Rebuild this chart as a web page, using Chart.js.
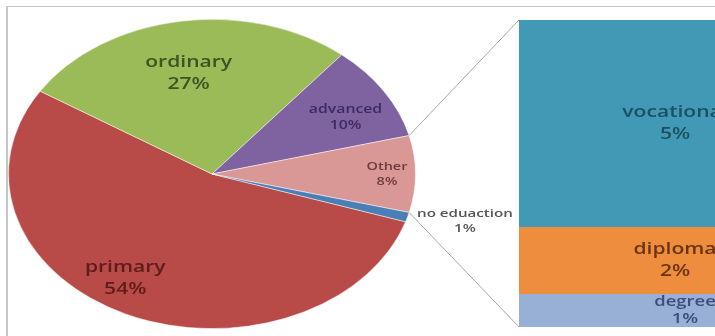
<!DOCTYPE html>
<html>
<head>
<meta charset="utf-8">
<script src="https://cdn.jsdelivr.net/npm/chart.js@4.4.1/dist/chart.umd.min.js"></script>
<style>
    html, body { margin: 0; padding: 0; background: #fff; overflow: hidden; }
    #wrap { position: relative; width: 715px; height: 336px; overflow: hidden; background: #fff; }
    #frame { position: absolute; left: 6px; top: 6px; width: 760px; height: 400px;
             border-top: 1px solid #c6c6c6; border-left: 2px solid #c6c6c6; }
    #barCanvas { position: absolute; left: 519px; top: 0; }
    #pieCanvas { position: absolute; left: 0; top: -38px; }
</style>
</head>
<body>
<div id="wrap">
    <div id="frame"></div>
    <canvas id="barCanvas" width="312" height="336"></canvas>
    <canvas id="pieCanvas" width="715" height="424"></canvas>
</div>
<script>
    // 主饼图数据
    const pieLabels = ['primary', 'ordinary', 'advanced', 'Other', 'no eduaction'];
    const pieValues = [54, 27, 10, 8, 1];

    // 右侧条形 - Other 的细分 (从下到上)
    const barLabels = ['degree', 'diploma', 'vocational'];
    const barValues = [0.85, 1.75, 5.4];

    // 颜色
    const pieColors = ['#b84a47', '#9bbb59', '#7f63a1', '#d99795', '#4a7fb5'];
    const pieTextColors = ['#5e1c1b', '#3f5221', '#3b2c5e', '#6e3b3b', '#555555'];
    const barColors = ['#98afd6', '#ef8d3f', '#4299b5'];
    const barTextColors = ['#3b4f78', '#6a3510', '#1c4f63'];

    const SX = 204 / 155;   // 原图被横向拉伸
    const K = 155 / 204;    // 饼图纵向压扁

    // 标签位置: [半径比例, 角度偏移(度), 字号]
    const pieLabelPos = [[0.8, 7, 16], [0.66, -1, 16], [0.75, 3.4, 12], [0.86, 0, 11], [1.28, -2.4, 11.5]];
    // 条形标签: [字号, x 偏移, 行距]
    const barLabelStyle = [[14, 10, 17], [16, 0, 22], [16, 0, 22]];

    function drawText(ctx, lines, x, y, size, color, lh) {
        lh = lh || size * 1.38;
        ctx.save();
        ctx.font = '600 ' + size + 'px "Open Sans"';
        ctx.fillStyle = color;
        ctx.textAlign = 'center';
        ctx.textBaseline = 'middle';
        lines.forEach((t, i) => {
            ctx.save();
            ctx.translate(x, y + (i - (lines.length - 1) / 2) * lh);
            ctx.scale(SX, 1);
            ctx.fillText(t, 0, 0);
            ctx.restore();
        });
        ctx.restore();
    }

    // 条形标签
    const barLabelPlugin = {
        id: 'barLabels',
        afterDatasetsDraw(chart) {
            chart.data.datasets.forEach((ds, i) => {
                const el = chart.getDatasetMeta(i).data[0];
                const s = barLabelStyle[i];
                drawText(chart.ctx, [barLabels[i], Math.round(barValues[i]) + '%'],
                    el.x + s[1], (el.y + el.base) / 2, s[0], barTextColors[i], s[2]);
            });
        }
    };

    const barChart = new Chart(document.getElementById('barCanvas'), {
        type: 'bar',
        data: {
            labels: ['Other'],
            datasets: barLabels.map((l, i) => ({
                label: l,
                data: [barValues[i]],
                backgroundColor: barColors[i],
                borderWidth: 0,
                barPercentage: 1,
                categoryPercentage: 1
            }))
        },
        options: {
            responsive: false,
            animation: false,
            layout: { padding: { top: 20, bottom: 9, left: 0, right: 0 } },
            scales: {
                x: { stacked: true, display: false },
                y: { stacked: true, display: false, min: 0, max: barValues.reduce((a, b) => a + b, 0) }
            },
            plugins: { legend: { display: false }, tooltip: { enabled: false } }
        },
        plugins: [barLabelPlugin]
    });

    // 压扁成椭圆
    const squashPlugin = {
        id: 'squash',
        beforeDatasetsDraw(chart) {
            const a = chart.getDatasetMeta(0).data[0];
            const c = chart.ctx;
            c.save();
            c.translate(a.x, a.y);
            c.scale(1, K);
            c.translate(-a.x, -a.y);
        },
        afterDatasetsDraw(chart) {
            chart.ctx.restore();
        }
    };

    // 饼图标签 + 连接线
    const pieExtrasPlugin = {
        id: 'pieExtras',
        afterDraw(chart) {
            const ctx = chart.ctx;
            const arcs = chart.getDatasetMeta(0).data;
            arcs.forEach((a, i) => {
                const p = pieLabelPos[i];
                const mid = (a.startAngle + a.endAngle) / 2 + p[1] * Math.PI / 180;
                const r = a.outerRadius * p[0];
                const x = a.x + Math.cos(mid) * r;
                const y = a.y + Math.sin(mid) * r * K;
                drawText(ctx, [pieLabels[i], Math.round(pieValues[i]) + '%'], x, y, p[2], pieTextColors[i]);
            });

            // 连接线: Other 扇区边缘 -> 条形角
            const other = arcs[pieLabels.indexOf('Other')];
            const pc = document.getElementById('pieCanvas');
            const bc = document.getElementById('barCanvas');
            const dx = bc.offsetLeft - pc.offsetLeft;
            const dy = bc.offsetTop - pc.offsetTop;
            const top = barChart.getDatasetMeta(barLabels.length - 1).data[0];
            const bottom = barChart.getDatasetMeta(0).data[0];
            const R = other.outerRadius;
            const p1 = [other.x + Math.cos(other.startAngle) * R, other.y + Math.sin(other.startAngle) * R * K];
            const p2 = [other.x + Math.cos(other.endAngle) * R, other.y + Math.sin(other.endAngle) * R * K];
            ctx.save();
            ctx.strokeStyle = '#a6a6a6';
            ctx.lineWidth = 1;
            ctx.beginPath();
            ctx.moveTo(p1[0], p1[1]);
            ctx.lineTo(top.x - top.width / 2 + dx, top.y + dy);
            ctx.moveTo(p2[0], p2[1]);
            ctx.lineTo(bottom.x - bottom.width / 2 + dx, bottom.base + dy);
            ctx.stroke();
            ctx.restore();
        }
    };

    const pieChart = new Chart(document.getElementById('pieCanvas'), {
        type: 'pie',
        data: {
            labels: pieLabels,
            datasets: [{
                data: pieValues,
                backgroundColor: pieColors,
                borderColor: 'rgba(255,255,255,0.55)',
                borderWidth: 1,
                clip: false
            }]
        },
        options: {
            responsive: false,
            animation: false,
            rotation: 108,
            layout: { padding: { left: 8, top: 8, bottom: 8, right: 299 } },
            plugins: { legend: { display: false }, tooltip: { enabled: false } }
        },
        plugins: [squashPlugin, pieExtrasPlugin]
    });
</script>
</body>
</html>
